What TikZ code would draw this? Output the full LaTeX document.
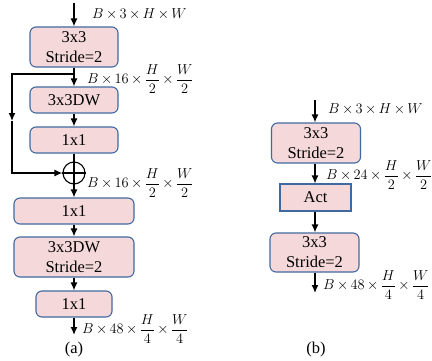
\documentclass[tikz,border=0pt]{standalone}
\usepackage{amsmath}
\usepackage{fontspec}
\newfontfamily\boxfont{Liberation Serif}
\usetikzlibrary{arrows.meta}
\definecolor{blkfill}{RGB}{245,217,218}
\definecolor{blkdraw}{RGB}{65,105,160}
\newcommand\dimfont{\fontsize{14.4}{17}\selectfont\medmuskip=3mu\relax}
\tikzset{
  blk/.style={draw=blkdraw, fill=blkfill, line width=1.1pt, rounded corners=6pt,
    align=center, inner sep=0pt, font=\boxfont\fontsize{16.5}{20}\selectfont},
  actblk/.style={blk, rounded corners=0pt},
  flow/.style={line width=1.4pt, -{Latex[length=8pt,width=7pt]}},
  link/.style={line width=1.4pt},
  dimlbl/.style={anchor=west, inner sep=0pt, font=\dimfont},
  sublbl/.style={font=\boxfont\fontsize{16.5}{20}\selectfont}
}
\begin{document}
\begin{tikzpicture}[x=1pt,y=-1pt]
\useasboundingbox (0,0) rectangle (432,360);
% (a)
\coordinate (ina) at (74,3);
\node[blk, minimum width=88, minimum height=40] (a1) at (74,47) {3x3\\Stride=2};
\node[blk, minimum width=88, minimum height=26] (a2) at (74,100) {3x3DW};
\node[blk, minimum width=88, minimum height=26] (a3) at (74,140) {1x1};
\node[draw, circle, line width=1.1pt, minimum size=22, inner sep=0pt] (plus) at (74,173) {};
\node[blk, minimum width=120, minimum height=26] (a4) at (74,211) {1x1};
\node[blk, minimum width=120, minimum height=40] (a5) at (74,257) {3x3DW\\Stride=2};
\node[blk, minimum width=76, minimum height=26] (a6) at (74,304) {1x1};
\coordinate (outa) at (74,335);
\coordinate (split) at (74,74);
\coordinate (skipmid) at (12,121);
\draw[flow] (ina) -- (a1);
\draw[flow] (a1) -- (a2);
\draw[flow] (a2) -- (a3);
\draw[flow] (split) -| (skipmid);
\draw[flow] (skipmid) |- (plus.west);
\draw[link] (a3) -- (plus.north);
\draw[line width=1.1pt] (plus.north) -- (plus.south) (plus.west) -- (plus.east);
\draw[flow] (plus) -- (a4);
\draw[flow] (a4) -- (a5);
\draw[flow] (a5) -- (a6);
\draw[flow] (a6) -- (outa);
\node[dimlbl] (da0) at (92,14) {$B\times 3\times H\times W$};
\node[dimlbl] (da1) at (87,79) {$B\times 16\times\dfrac{H}{2}\times\dfrac{W}{2}$};
\node[dimlbl] (da2) at (87,183) {$B\times 16\times\dfrac{H}{2}\times\dfrac{W}{2}$};
\node[dimlbl] (da3) at (82,329) {$B\times 48\times\dfrac{H}{4}\times\dfrac{W}{4}$};
\node[sublbl] (capa) at (74,350) {(a)};
% (b)
\coordinate (inb) at (315,100);
\node[blk, minimum width=89, minimum height=40] (b1) at (316,143) {3x3\\Stride=2};
\node[actblk, minimum width=71, minimum height=27] (b2) at (315.5,197.5) {Act};
\node[blk, minimum width=89, minimum height=39] (b3) at (314.5,252.5) {3x3\\Stride=2};
\coordinate (outb) at (315,293);
\draw[flow] (inb) -- (inb |- b1.north);
\draw[flow] (b1.south -| inb) -- (inb |- b2.north);
\draw[flow] (b2.south -| inb) -- (inb |- b3.north);
\draw[flow] (b3.south -| inb) -- (outb);
\node[dimlbl] (db0) at (328,109) {$B\times 3\times H\times W$};
\node[dimlbl] (db1) at (326,175) {$B\times 24\times\dfrac{H}{2}\times\dfrac{W}{2}$};
\node[dimlbl] (db2) at (323,285) {$B\times 48\times\dfrac{H}{4}\times\dfrac{W}{4}$};
\node[sublbl] (capb) at (316,350) {(b)};
\end{tikzpicture}
\end{document}
